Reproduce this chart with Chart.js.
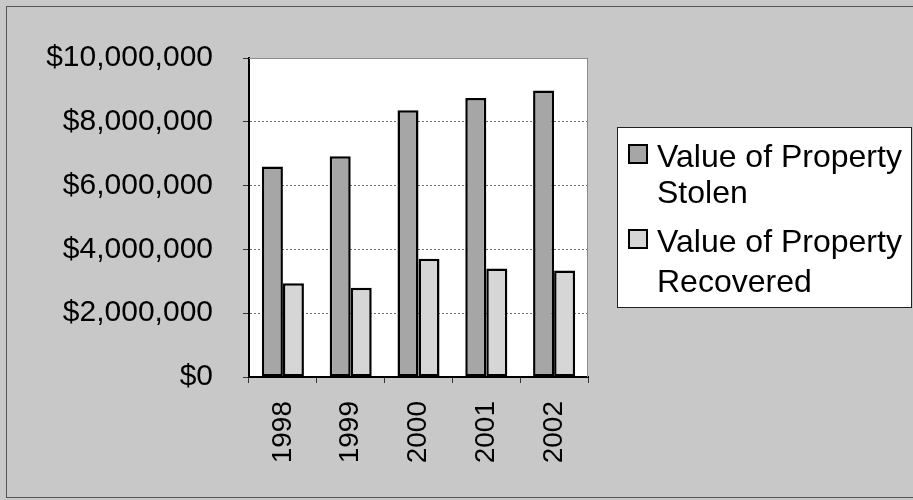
<!DOCTYPE html>
<html>
<head>
  <meta http-equiv="Content-type" content="text/html; charset=utf-8">
  <title>Value of Property Stolen / Recovered</title>
  <style>
    html, body { margin: 0; padding: 0; background: #c8c8c8; }
  </style>
</head>
<body>
  <canvas id="canvas" width="913" height="500"></canvas>

  <script src="https://cdn.jsdelivr.net/npm/chart.js"></script>

  <script>
    // data
    const years = ['1998', '1999', '2000', '2001', '2002'];
    const stolen = [6600000, 6920000, 8360000, 8750000, 8980000];
    const recovered = [2940000, 2800000, 3710000, 3400000, 3340000];
    const yMin = 0;
    const yMax = 10000000;
    const yStep = 2000000;
    const seriesNames = ['Value of Property Stolen', 'Value of Property Recovered'];
    const legendLines = [['Value of Property', 'Stolen'], ['Value of Property', 'Recovered']];

    const FONT = '"Liberation Sans", Arial, sans-serif';

    // gray page, white plot area, frame
    const backdrop = {
      id: 'backdrop',
      beforeDraw(chart) {
        const { ctx, chartArea: a } = chart;
        ctx.save();
        ctx.fillStyle = '#c8c8c8';
        ctx.fillRect(0, 0, chart.width, chart.height);
        ctx.strokeStyle = '#555';
        ctx.lineWidth = 1;
        ctx.strokeRect(6.5, 6.5, chart.width, 491);
        ctx.fillStyle = '#ffffff';
        ctx.fillRect(a.left, a.top, a.right - a.left, a.bottom - a.top);
        ctx.restore();
      },
      afterDraw(chart) {
        const { ctx, chartArea: a } = chart;
        ctx.save();
        ctx.strokeStyle = '#8c8c8c';
        ctx.lineWidth = 1;
        ctx.beginPath();
        ctx.moveTo(a.left, a.top + 0.5);
        ctx.lineTo(a.right - 0.5, a.top + 0.5);
        ctx.lineTo(a.right - 0.5, a.bottom);
        ctx.stroke();
        ctx.restore();
      }
    };

    // legend box with wrapped labels
    const boxLegend = {
      id: 'boxLegend',
      afterDraw(chart) {
        const ctx = chart.ctx;
        const x = 617.5, y = 127.5, w = 294, h = 180;
        ctx.save();
        ctx.fillStyle = '#ffffff';
        ctx.fillRect(x, y, w, h);
        ctx.strokeStyle = '#222';
        ctx.lineWidth = 1;
        ctx.strokeRect(x, y, w, h);

        const baselines = [[167, 203], [252, 292]];
        const swatchTop = [145, 230];
        ctx.font = '32px ' + FONT;
        ctx.textBaseline = 'alphabetic';
        ctx.textAlign = 'left';
        chart.data.datasets.forEach((ds, i) => {
          ctx.fillStyle = ds.backgroundColor;
          ctx.fillRect(629, swatchTop[i], 18, 18);
          ctx.strokeStyle = '#000';
          ctx.lineWidth = 2;
          ctx.strokeRect(629, swatchTop[i], 18, 18);
          ctx.fillStyle = '#000';
          legendLines[i].forEach((line, j) => {
            ctx.fillText(line, 657, baselines[i][j]);
          });
        });
        ctx.restore();
      }
    };

    const ctx = document.getElementById('canvas').getContext('2d');

    const chart = new Chart(ctx, {
      type: 'bar',
      data: {
        labels: years,
        datasets: [
          {
            label: seriesNames[0],
            data: stolen,
            backgroundColor: '#a6a6a6',
            borderColor: '#000',
            borderWidth: 2.5,
            borderSkipped: false,
            categoryPercentage: 0.62,
            barPercentage: 1.0
          },
          {
            label: seriesNames[1],
            data: recovered,
            backgroundColor: '#d6d6d6',
            borderColor: '#000',
            borderWidth: 2.5,
            borderSkipped: false,
            categoryPercentage: 0.62,
            barPercentage: 1.0
          }
        ]
      },
      options: {
        responsive: false,
        animation: false,
        layout: {
          padding: { left: 0, right: 325, top: 58, bottom: 0 }
        },
        plugins: {
          legend: { display: false },
          tooltip: { enabled: false }
        },
        scales: {
          x: {
            afterFit(scale) { scale.height = 123; },
            grid: {
              offset: true,
              drawOnChartArea: false,
              drawTicks: true,
              tickLength: 6,
              tickColor: '#333'
            },
            border: { color: '#000', width: 2 },
            ticks: {
              minRotation: 90,
              maxRotation: 90,
              padding: 18,
              color: '#000',
              font: { family: FONT, size: 28 }
            }
          },
          y: {
            min: yMin,
            max: yMax,
            afterFit(scale) {
              scale.width = 249;
              scale.paddingTop = 15;
              scale.paddingBottom = 15;
            },
            grid: {
              color: '#6e6e6e',
              lineWidth: 1,
              drawTicks: true,
              tickLength: 6,
              tickColor: '#333'
            },
            border: { color: '#000', width: 2, dash: [2, 2] },
            ticks: {
              stepSize: yStep,
              padding: 30,
              color: '#000',
              font: { family: FONT, size: 30 },
              callback: v => '$' + Number(v).toLocaleString('en-US')
            }
          }
        }
      },
      plugins: [backdrop, boxLegend]
    });
  </script>
</body>
</html>
